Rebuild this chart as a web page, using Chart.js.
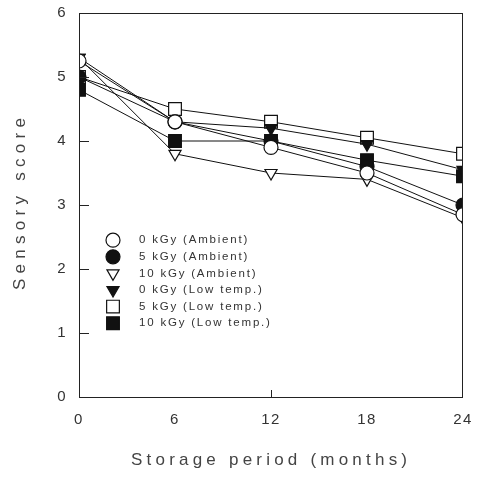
<!DOCTYPE html>
<html>
<head>
<meta charset="utf-8">
<script src="https://cdn.jsdelivr.net/npm/chart.js@4"></script>
<style>
  html, body { margin: 0; padding: 0; background: #fff; }
  #wrap { width: 480px; height: 478px; }
</style>
</head>
<body>
<div id="wrap"><canvas id="sensoryChart" width="480" height="478"></canvas></div>
<script>
// storage period in months
let months = [0, 6, 12, 18, 24];
let yTicks = [0, 1, 2, 3, 4, 5, 6];

let labels = ["0 kGy (Ambient)", "5 kGy (Ambient)", "10 kGy (Ambient)",
              "0 kGy (Low temp.)", "5 kGy (Low temp.)", "10 kGy (Low temp.)"];

let amb0  = [5.25, 4.3, 3.9, 3.5, 2.85];
let amb5  = [5.0, 4.3, 4.0, 3.6, 3.0];
let amb10 = [5.3, 3.8, 3.5, 3.4, 2.8];
let low0  = [5.3, 4.3, 4.2, 3.95, 3.55];
let low5  = [5.0, 4.5, 4.3, 4.05, 3.8];
let low10 = [4.8, 4.0, 4.0, 3.7, 3.45];

let values = [amb0, amb5, amb10, low0, low5, low10];
let shapes = ['circle', 'circle', 'triangle', 'triangle', 'rect', 'rect'];
let filled = [false, true, false, true, false, true];

function pts(arr) {
  return arr.map((v, i) => ({ x: months[i], y: v }));
}
function radiusFor(shape) {
  return shape === 'rect' ? 9 : 7;
}

let datasets = values.map((arr, i) => ({
  label: labels[i],
  data: pts(arr),
  borderColor: '#111',
  borderWidth: 1,
  pointBackgroundColor: filled[i] ? '#111' : '#fff',
  pointBorderColor: '#111',
  pointBorderWidth: 1.2,
  pointStyle: shapes[i],
  pointRotation: shapes[i] === 'triangle' ? 180 : 0,
  pointRadius: radiusFor(shapes[i]),
  fill: false,
  tension: 0
}));

// draw text with wide letter spacing stretched to a given width
function spacedText(ctx, text, x, y, width) {
  ctx.letterSpacing = '0px';
  let w = ctx.measureText(text).width;
  let sp = (width - w) / (text.length - 1);
  ctx.letterSpacing = sp + 'px';
  ctx.textAlign = 'left';
  ctx.fillText(text, x - width / 2, y);
  ctx.letterSpacing = '0px';
}

// box, inward ticks, axis titles and legend
let decor = {
  id: 'decor',
  beforeDraw(chart) {
    chart.ctx.letterSpacing = '1.5px';
  },
  afterDatasetsDraw(chart) {
    let ctx = chart.ctx;
    let a = chart.chartArea;
    let xs = chart.scales.x, ys = chart.scales.y;
    ctx.save();
    ctx.strokeStyle = '#222';
    ctx.lineWidth = 1;
    ctx.strokeRect(a.left + 0.5, a.top + 0.5, a.right - a.left - 1, a.bottom - a.top);
    ctx.beginPath();
    yTicks.forEach(v => {
      let py = Math.round(ys.getPixelForValue(v)) + 0.5;
      ctx.moveTo(a.left, py); ctx.lineTo(a.left + 10, py);
    });
    let px = Math.round(xs.getPixelForValue(12)) + 0.5;
    ctx.moveTo(px, a.bottom); ctx.lineTo(px, a.bottom - 7);
    ctx.stroke();

    // axis titles
    ctx.fillStyle = '#444';
    ctx.textBaseline = 'middle';
    ctx.font = '17px "Liberation Sans"';
    spacedText(ctx, 'Storage period (months)', 269, 460, 276);
    ctx.save();
    ctx.translate(20, 204);
    ctx.rotate(-Math.PI / 2);
    spacedText(ctx, 'Sensory score', 0, 0, 172);
    ctx.restore();

    // legend
    ctx.font = '11.5px "Liberation Sans"';
    ctx.letterSpacing = '1.8px';
    ctx.textAlign = 'left';
    let lx = xs.getPixelForValue(0) + 34;
    let ly = ys.getPixelForValue(2.45);
    chart.data.datasets.forEach((ds, i) => {
      let y = ly + i * 16.6;
      ctx.fillStyle = filled[i] ? '#111' : '#fff';
      ctx.strokeStyle = '#111';
      ctx.lineWidth = 1.2;
      Chart.helpers.drawPoint(ctx, {
        pointStyle: ds.pointStyle,
        rotation: ds.pointRotation,
        radius: ds.pointRadius,
        borderWidth: 1.2
      }, lx, y);
      ctx.fillStyle = '#333';
      ctx.fillText(ds.label, lx + 26, y);
    });
    ctx.restore();
  }
};

let sensoryChart = new Chart(document.getElementById('sensoryChart').getContext('2d'), {
  type: 'line',
  data: { datasets: datasets },
  plugins: [decor],
  options: {
    responsive: false,
    animation: false,
    layout: { padding: { top: 13, right: 17, left: 0, bottom: 0 } },
    plugins: {
      legend: { display: false },
      tooltip: { enabled: false }
    },
    scales: {
      x: {
        type: 'linear',
        min: 0, max: 24,
        afterBuildTicks(s) { s.ticks = months.map(v => ({ value: v })); },
        afterFit(s) { s.height = 81; s.paddingLeft = 0; s.paddingRight = 0; },
        grid: { display: false, drawTicks: false },
        border: { display: false },
        ticks: { color: '#333', padding: 14, font: { family: 'Liberation Sans', size: 15 } }
      },
      y: {
        min: 0, max: 6,
        afterBuildTicks(s) { s.ticks = yTicks.map(v => ({ value: v })); },
        afterFit(s) { s.width = 79; s.paddingTop = 0; s.paddingBottom = 0; },
        grid: { display: false, drawTicks: false },
        border: { display: false },
        ticks: { color: '#333', padding: 12, font: { family: 'Liberation Sans', size: 15 } }
      }
    }
  }
});
</script>
</body>
</html>
